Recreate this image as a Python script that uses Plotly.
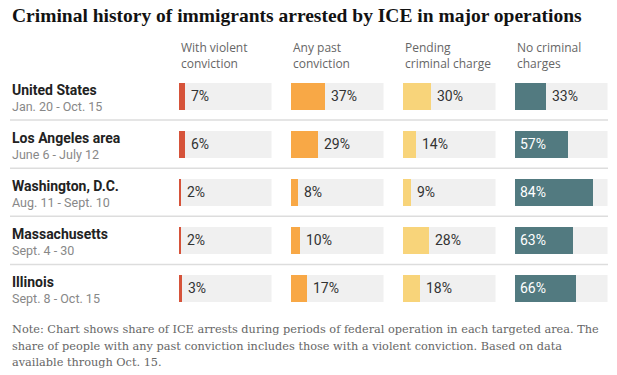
import plotly.graph_objects as go

W, H = 617, 375

regions = ["United States", "Los Angeles area", "Washington, D.C.", "Massachusetts", "Illinois"]
periods = ["Jan. 20 - Oct. 15", "June 6 - July 12", "Aug. 11 - Sept. 10", "Sept. 4 - 30", "Sept. 8 - Oct. 15"]
headers = ["With violent<br>conviction", "Any past<br>conviction", "Pending<br>criminal charge", "No criminal<br>charges"]
violent = [7, 6, 2, 2, 3]
past_conv = [37, 29, 8, 10, 17]
pending = [30, 14, 9, 28, 18]
no_charges = [33, 57, 84, 63, 66]
note_lines = [
    "Note: Chart shows share of ICE arrests during periods of federal operation in each targeted area. The",
    "share of people with any past conviction includes those with a violent conviction. Based on data",
    "available through Oct. 15.",
]

series = [violent, past_conv, pending, no_charges]
colors = ["#d6533a", "#f8a846", "#f8d47a", "#527a80"]

SANS = "Roboto, Liberation Sans, Arial, sans-serif"
HEAD = "Open Sans, Roboto, sans-serif"
SERIF = "Liberation Serif, Georgia, serif"
NOTE = "DejaVu Serif, Georgia, serif"

fig = go.Figure()
rows = list(range(len(regions)))

col_left = [179, 291, 403, 515]
col_w = 92.5

for j, vals in enumerate(series):
    xa = "x" if j == 0 else f"x{j+1}"
    fig.add_trace(go.Bar(x=[100] * len(rows), y=rows, orientation="h", width=0.5625,
                         marker=dict(color="#f0f0f0", line=dict(width=0)),
                         xaxis=xa, yaxis="y", hoverinfo="skip", showlegend=False))
    fig.add_trace(go.Bar(x=vals, y=rows, orientation="h", width=0.5625,
                         marker=dict(color=colors[j], line=dict(width=0)),
                         xaxis=xa, yaxis="y", showlegend=False))
    axname = "xaxis" if j == 0 else f"xaxis{j+1}"
    fig.layout[axname] = dict(domain=[col_left[j] / W, (col_left[j] + col_w) / W], range=[0, 100],
                              visible=False, fixedrange=True, anchor="y")
    for i, v in enumerate(vals):
        inside = v >= 50
        fig.add_annotation(xref=xa, yref="y", x=0 if inside else v, y=i, text=f"{v}%",
                           xanchor="left", yanchor="middle", showarrow=False,
                           xshift=3 if inside else 4, yshift=0,
                           font=dict(family=SANS, size=14, color="white" if inside else "#333"))
    fig.add_annotation(xref="paper", yref="paper", x=col_left[j] / W, y=1 - 37 / H,
                       text=headers[j], xanchor="left", yanchor="top", align="left", showarrow=False,
                       font=dict(family=HEAD, size=12, color="#666"))

for i, (r, p) in enumerate(zip(regions, periods)):
    fig.add_annotation(xref="paper", yref="y", x=10 / W, y=i, text=f"<b>{r}</b>", xanchor="left",
                       yanchor="middle", yshift=6, showarrow=False,
                       font=dict(family=SANS, size=14, color="#222"))
    fig.add_annotation(xref="paper", yref="y", x=10 / W, y=i, text=p, xanchor="left",
                       yanchor="middle", yshift=-10, showarrow=False,
                       font=dict(family=SANS, size=12.5, color="#888"))

for k in range(len(regions) - 1):
    fig.add_shape(type="line", xref="paper", yref="y", x0=10 / W, x1=608 / W, y0=k + 0.5, y1=k + 0.5,
                  line=dict(color="#dddddd", width=1.5))

fig.add_annotation(xref="paper", yref="paper", x=10 / W, y=1 - 16 / H,
                   text="<b>Criminal history of immigrants arrested by ICE in major operations</b>",
                   xanchor="left", yanchor="middle", showarrow=False,
                   font=dict(family=SERIF, size=19.5, color="#121212"))

for n, line in enumerate(note_lines):
    fig.add_annotation(xref="paper", yref="paper", x=10 / W, y=1 - (329.5 + 16.5 * n) / H,
                       text=line, xanchor="left", yanchor="middle", align="left", showarrow=False,
                       font=dict(family=NOTE, size=11.3, color="#666"))

fig.update_layout(
    width=W, height=H, margin=dict(l=0, r=0, t=0, b=0),
    paper_bgcolor="white", plot_bgcolor="white", barmode="overlay", bargap=0,
    yaxis=dict(domain=[1 - 312.5 / H, 1 - 72 / H], range=[4.5, -0.5], visible=False, fixedrange=True),
    showlegend=False,
)

fig.write_html("out.html", config={"displayModeBar": False},
               post_script="document.body.style.margin='0';")
